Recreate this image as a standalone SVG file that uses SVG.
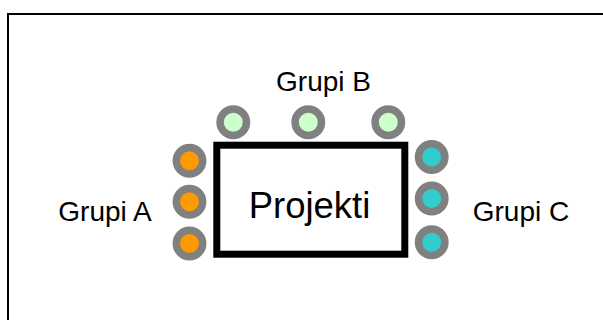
<svg xmlns="http://www.w3.org/2000/svg" width="603" height="320" viewBox="0 0 603 320">
<style>
.seat{stroke:#808080;stroke-width:7.5}
.a{fill:#FF9900}
.b{fill:#CCFFCC}
.c{fill:#33CCCC}
.lbl{font-family:"Liberation Sans",Arial,sans-serif;font-size:28px;fill:#000}
</style>
<rect x="0" y="0" width="603" height="320" fill="#fff"/>
<path d="M8,330 V14 H610" fill="none" stroke="#000" stroke-width="2"/>
<g id="projekti">
<rect x="216.8" y="145.2" width="188" height="109" fill="#fff" stroke="#000" stroke-width="7"/>
<text x="309.5" y="218" text-anchor="middle" font-family="Liberation Sans, Arial, sans-serif" font-size="36.5">Projekti</text>
</g>
<g id="grupiA">
<circle class="seat a" cx="189.5" cy="160.7" r="13.2"/>
<circle class="seat a" cx="189.5" cy="201.7" r="13.2"/>
<circle class="seat a" cx="189.5" cy="243.5" r="13.2"/>
<text class="lbl" x="105" y="221" text-anchor="middle">Grupi A</text>
</g>
<g id="grupiB">
<circle class="seat b" cx="233.3" cy="122.3" r="13.2"/>
<circle class="seat b" cx="308.3" cy="122.3" r="13.2"/>
<circle class="seat b" cx="388.3" cy="122.3" r="13.2"/>
<text class="lbl" x="323.5" y="91" text-anchor="middle">Grupi B</text>
</g>
<g id="grupiC">
<circle class="seat c" cx="431.7" cy="157" r="13.2"/>
<circle class="seat c" cx="431.7" cy="198.5" r="13.2"/>
<circle class="seat c" cx="431.7" cy="242.3" r="13.2"/>
<text class="lbl" x="521" y="221" text-anchor="middle">Grupi C</text>
</g>
<g id="connectors"/>
</svg>
